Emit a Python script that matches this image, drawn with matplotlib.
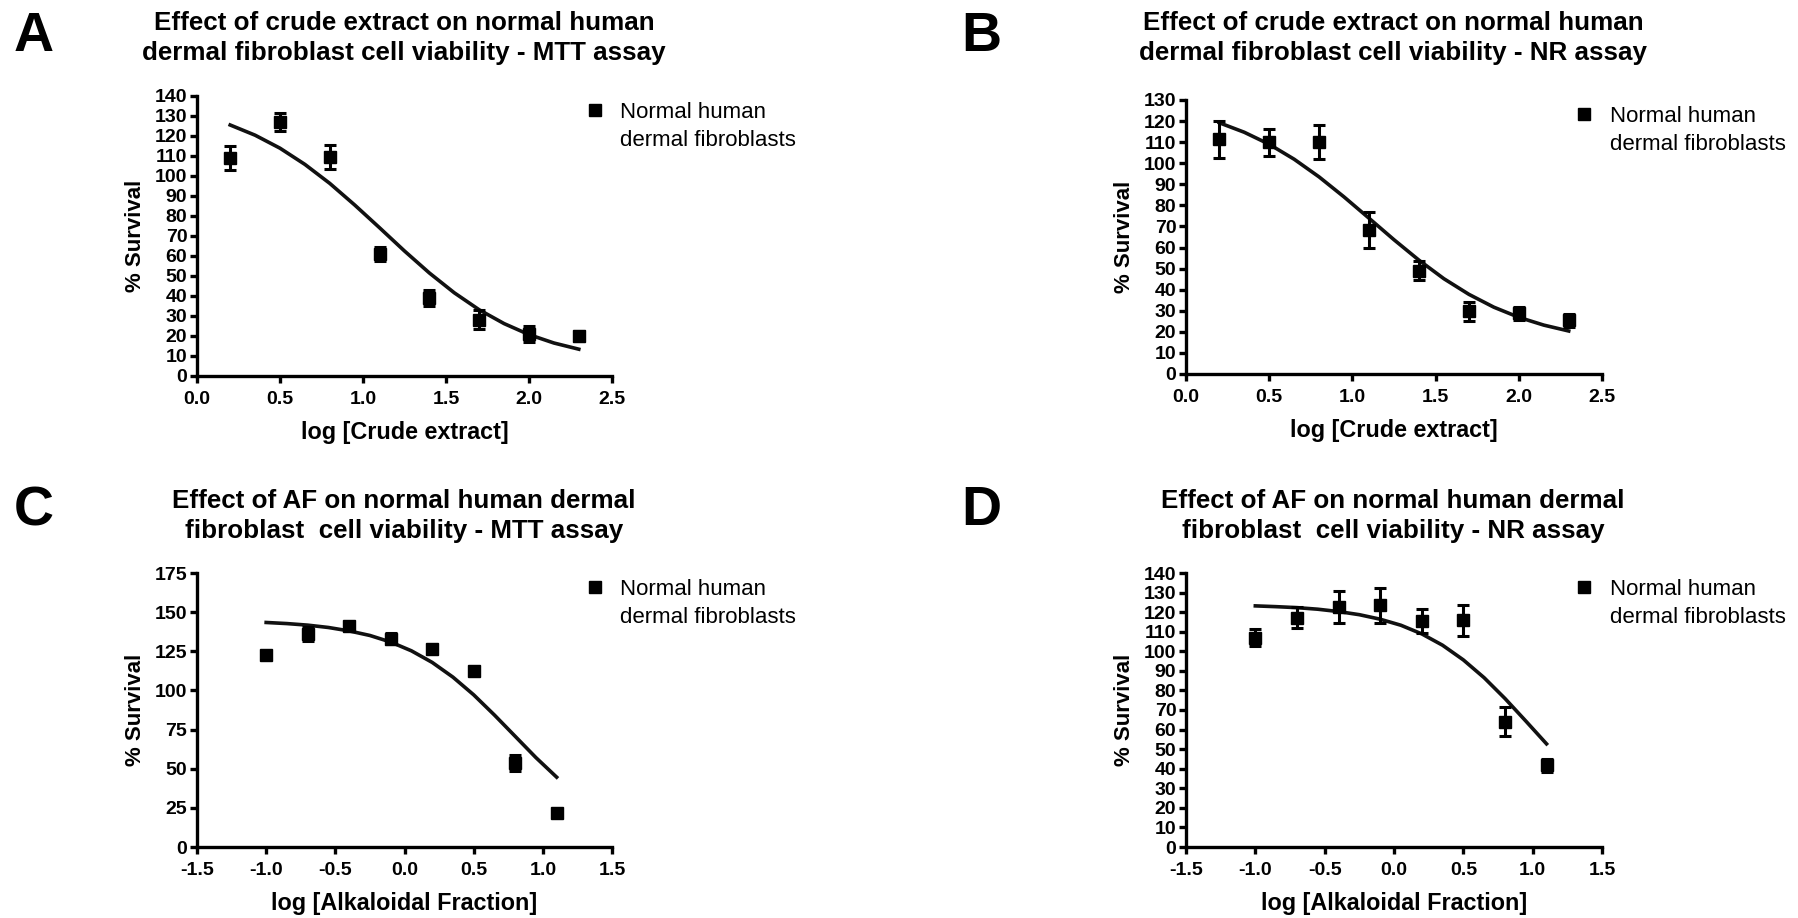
import matplotlib
matplotlib.use("Agg")
import matplotlib.pyplot as plt
from matplotlib.lines import Line2D

plt.rcParams['font.family'] = ['Liberation Sans', 'DejaVu Sans']

# data: dose (log), mean survival, error
crude_x = [0.2, 0.5, 0.8, 1.1, 1.4, 1.7, 2.0, 2.3]
mtt_crude_y = [109.2, 126.9, 109.7, 61.0, 39.0, 28.2, 21.0, 20.2]
mtt_crude_err = [6.0, 4.5, 6.0, 3.5, 4.0, 4.6, 3.8, 2.5]
nr_crude_y = [111.3, 110.0, 110.0, 68.2, 49.0, 29.8, 28.8, 25.5]
nr_crude_err = [8.6, 6.4, 8.2, 8.6, 4.4, 4.5, 3.0, 3.0]

af_x = [-1.0, -0.7, -0.4, -0.1, 0.2, 0.5, 0.8, 1.1]
mtt_af_y = [122.9, 136.3, 141.3, 133.0, 126.6, 112.5, 53.8, 21.8]
mtt_af_err = [1.5, 4.5, 1.5, 3.5, 1.5, 1.5, 5.0, 1.5]
nr_af_y = [107.0, 117.2, 122.6, 123.5, 115.4, 115.8, 64.0, 41.7]
nr_af_err = [4.3, 5.5, 8.4, 9.0, 6.1, 8.1, 7.4, 3.5]

# fitted curves, values
crude_fit_x = [0.2, 0.35, 0.5, 0.65, 0.8, 0.95, 1.1, 1.25, 1.4, 1.55, 1.7, 1.85, 2.0, 2.15, 2.3]
mtt_crude_fit = [125.5, 120.4, 113.9, 105.8, 96.3, 85.5, 74.1, 62.5, 51.5, 41.6, 33.1, 26.2, 20.7, 16.5, 13.4]
nr_crude_fit = [119.2, 114.7, 109.0, 101.9, 93.5, 84.0, 73.9, 63.7, 54.0, 45.2, 37.8, 31.7, 26.9, 23.2, 20.4]

af_fit_x = [-1.0, -0.85, -0.7, -0.55, -0.4, -0.25, -0.1, 0.05, 0.2, 0.35, 0.5, 0.65, 0.8, 0.95, 1.1]
mtt_af_fit = [143.4, 142.7, 141.7, 140.2, 138.0, 135.1, 130.9, 125.3, 117.9, 108.5, 97.2, 84.3, 70.7, 57.1, 44.6]
nr_af_fit = [123.2, 122.8, 122.3, 121.5, 120.3, 118.7, 116.4, 113.3, 108.9, 103.1, 95.6, 86.5, 75.9, 64.4, 52.7]

legend_lines = ["Normal human", "dermal fibroblasts"]

W, H = 1798, 918
fig = plt.figure(figsize=(W / 100, H / 100), dpi=100)


def px_axes(left, top, right, bottom):
    return fig.add_axes([left / W, 1 - bottom / H, (right - left) / W, (bottom - top) / H])


def panel(ax, x, y, err, fx, fy, xlim, xticks, ylim, yticks, xlabel):
    ax.plot(fx, fy, color='#111111', lw=2.6, zorder=2)
    eb = ax.errorbar(x, y, yerr=err, fmt='s', color='black', ms=9, capsize=4.5,
                     elinewidth=2.2, capthick=2.2, zorder=3, clip_on=False)
    ax.set_xlim(*xlim)
    ax.set_ylim(*ylim)
    ax.set_xticks(xticks)
    ax.set_xticklabels(['%.1f' % t for t in xticks])
    ax.set_yticks(yticks)
    for s in ['top', 'right']:
        ax.spines[s].set_visible(False)
    for s in ['left', 'bottom']:
        ax.spines[s].set_linewidth(2.4)
    ax.tick_params(width=2.4, length=5, labelsize=14)
    ax.tick_params(axis='x', pad=6)
    ax.tick_params(axis='y', pad=2)
    for lab in ax.get_xticklabels() + ax.get_yticklabels():
        lab.set_fontweight('bold')
    ax.set_xlabel(xlabel, fontsize=16.8, fontweight='bold', labelpad=9)
    ax.set_ylabel('% Survival', fontsize=16, fontweight='bold', labelpad=6)
    # marker sits on the first line of the label, like the original
    blank = Line2D([], [], linestyle='none')
    ax.legend([eb[0], blank], legend_lines, loc='upper left', bbox_to_anchor=(0.915, 1.01),
              frameon=False, fontsize=16, handlelength=0.8, handletextpad=0.75,
              borderaxespad=0, labelspacing=0.32)


axA = px_axes(197, 96, 612, 376)
panel(axA, crude_x, mtt_crude_y, mtt_crude_err, crude_fit_x, mtt_crude_fit,
      (0, 2.5), [0.0, 0.5, 1.0, 1.5, 2.0, 2.5], (0, 140), range(0, 141, 10), 'log [Crude extract]')

axB = px_axes(1186, 100, 1602, 374)
panel(axB, crude_x, nr_crude_y, nr_crude_err, crude_fit_x, nr_crude_fit,
      (0, 2.5), [0.0, 0.5, 1.0, 1.5, 2.0, 2.5], (0, 130), range(0, 131, 10), 'log [Crude extract]')

axC = px_axes(197, 573, 612, 847)
panel(axC, af_x, mtt_af_y, mtt_af_err, af_fit_x, mtt_af_fit,
      (-1.5, 1.5), [-1.5, -1.0, -0.5, 0.0, 0.5, 1.0, 1.5], (0, 175), range(0, 176, 25), 'log [Alkaloidal Fraction]')

axD = px_axes(1186, 573, 1602, 847)
panel(axD, af_x, nr_af_y, nr_af_err, af_fit_x, nr_af_fit,
      (-1.5, 1.5), [-1.5, -1.0, -0.5, 0.0, 0.5, 1.0, 1.5], (0, 140), range(0, 141, 10), 'log [Alkaloidal Fraction]')

titles = [
    (404, 38, "Effect of crude extract on normal human\ndermal fibroblast cell viability - MTT assay"),
    (1393, 38, "Effect of crude extract on normal human\ndermal fibroblast cell viability - NR assay"),
    (404, 516, "Effect of AF on normal human dermal\nfibroblast  cell viability - MTT assay"),
    (1393, 516, "Effect of AF on normal human dermal\nfibroblast  cell viability - NR assay"),
]
for cx, cy, t in titles:
    fig.text(cx / W, 1 - cy / H, t, ha='center', va='center', fontsize=18.7,
             fontweight='bold', linespacing=1.28)

for lx, ly, letter in [(14, 37, 'A'), (961, 37, 'B'), (14, 511, 'C'), (961, 511, 'D')]:
    fig.text(lx / W, 1 - ly / H, letter, ha='left', va='center', fontsize=40, fontweight='bold')

fig.savefig('out.png', dpi=100)
